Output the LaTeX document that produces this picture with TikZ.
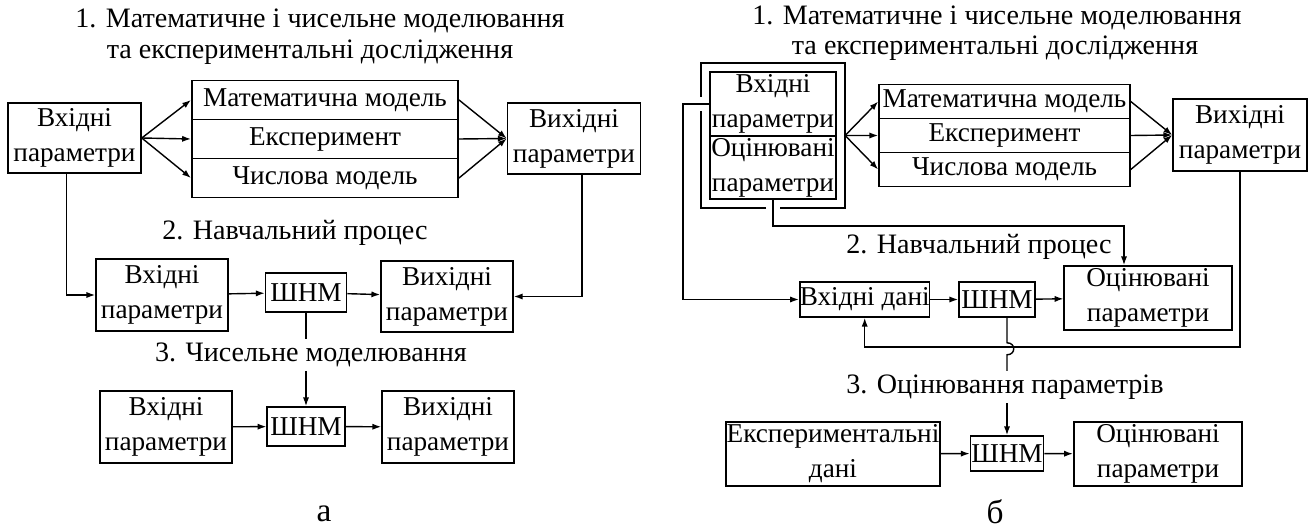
\documentclass[tikz,border=0pt]{standalone}
\usepackage{fontspec}
\setmainfont{Liberation Serif}
\usetikzlibrary{arrows.meta, positioning, calc, fit}

\begin{document}
\begin{tikzpicture}[
  x=0.02cm, y=-0.02cm,
  blk/.style={draw, line width=0.9pt, inner sep=0pt, align=center, font=\fontsize{15.5}{20}\selectfont},
  lbl/.style={inner sep=2pt, align=center, font=\fontsize{16}{20}\selectfont},
  arr/.style={line width=0.8pt, -{Latex[length=5pt, width=3.5pt]}},
  ln/.style={line width=0.8pt}
]
  \useasboundingbox (0,0) rectangle (1311,530);

  % (a)
  \node[lbl] (ta1) at (320,21) {1. Математичне і чисельне моделювання};
  \node[lbl] (ta2) at (310,52) {та експериментальні дослідження};
  \node[blk, minimum width=2.66cm, minimum height=1.4cm] (in1) at (74.5,138) {Вхідні\\параметри};
  \node[blk, minimum width=5.33cm, minimum height=0.78cm] (mm) at (325,100) {Математична модель};
  \node[blk, minimum width=5.33cm, minimum height=0.78cm] (ex) at (325,139) {Експеримент};
  \node[blk, minimum width=5.33cm, minimum height=0.78cm] (num) at (325,178) {Числова модель};
  \node[blk, minimum width=2.66cm, minimum height=1.42cm] (out1) at (574,138.5) {Вихідні\\параметри};
  \draw[arr] (in1.east) -- (mm.west);
  \draw[arr] (in1.east) -- (ex.west);
  \draw[arr] (in1.east) -- (num.west);
  \draw[arr] (mm.east) -- (out1.west);
  \draw[arr] (ex.east) -- (out1.west);
  \draw[arr] (num.east) -- (out1.west);

  \node[lbl] (ta3) at (295,233) {2. Навчальний процес};
  \node[blk, minimum width=2.64cm, minimum height=1.44cm] (in2) at (162,295) {Вхідні\\параметри};
  \node[blk, minimum width=1.62cm, minimum height=0.78cm] (shnm2) at (306,292.5) {ШНМ};
  \node[blk, minimum width=2.64cm, minimum height=1.42cm] (out2) at (447,296.5) {Вихідні\\параметри};
  \draw[arr] ([xshift=-0.16cm]in1.south) |- (in2.west);
  \draw[arr] ([xshift=0.16cm]out1.south) |- (out2.east);
  \draw[arr] (in2) -- (shnm2);
  \draw[arr] (shnm2) -- (out2);

  \node[lbl] (ta4) at (311,355) {3. Чисельне моделювання};
  \node[blk, minimum width=2.63cm, minimum height=1.44cm] (in3) at (166,427) {Вхідні\\параметри};
  \node[blk, minimum width=1.55cm, minimum height=0.78cm] (shnm3) at (306,426.5) {ШНМ};
  \node[blk, minimum width=2.64cm, minimum height=1.44cm] (out3) at (448,427) {Вихідні\\параметри};
  \draw[ln] (shnm2.south) -- (shnm2.south |- ta4.north);
  \draw[arr] (shnm3.north |- ta4.south) -- (shnm3.north);
  \draw[arr] (in3) -- (shnm3);
  \draw[arr] (shnm3) -- (out3);
  \node[lbl, font=\fontsize{19}{22}\selectfont] (capa) at (324,514) {а};

  % (б)
  \node[lbl] (tb1) at (997,18) {1. Математичне і чисельне моделювання};
  \node[lbl] (tb2) at (995,48) {та експериментальні дослідження};
  \node[blk, minimum width=2.52cm, minimum height=1.28cm] (vp) at (773,104) {Вхідні\\параметри};
  \node[blk, minimum width=2.52cm, minimum height=1.26cm] (op) at (773,167.5) {Оцінювані\\параметри};
  \node[fit=(vp)(op), inner sep=0.16cm] (frm) {};
  \draw[line width=0.9pt] ($(frm.west |- vp.west)+(0,-7)$) -- (frm.north west) -- (frm.north east)
    -- (frm.south east) -- ($(frm.south -| op.south)+(7,0)$);
  \draw[line width=0.9pt] ($(frm.south -| op.south)+(-7,0)$) -- (frm.south west) -- ($(frm.west |- vp.west)+(0,7)$);
  \node[blk, minimum width=5.02cm, minimum height=0.68cm] (mmb) at (1004.5,101.5) {Математична модель};
  \node[blk, minimum width=5.02cm, minimum height=0.68cm] (exb) at (1004.5,135.5) {Експеримент};
  \node[blk, minimum width=5.02cm, minimum height=0.68cm] (numb) at (1004.5,169.5) {Числова модель};
  \node[blk, minimum width=2.68cm, minimum height=1.44cm] (vout) at (1240,135) {Вихідні\\параметри};
  \draw[arr] (frm.east) -- (mmb.west);
  \draw[arr] (frm.east) -- (exb.west);
  \draw[arr] (frm.east) -- (numb.west);
  \draw[arr] (mmb.east) -- (vout.west);
  \draw[arr] (exb.east) -- (vout.west);
  \draw[arr] (numb.east) -- (vout.west);

  \node[lbl] (tb3) at (979,247) {2. Навчальний процес};
  \node[blk, minimum width=2.44cm, minimum height=0.7cm] (vin) at (864.7,299.5) {Вхідні дані};
  \node[blk, minimum width=1.52cm, minimum height=0.7cm] (shnm2b) at (997,299.5) {ШНМ};
  \node[blk, minimum width=3.35cm, minimum height=1.28cm] (est2) at (1148,298) {Оцінювані\\параметри};
  \coordinate (c1) at (1124,226);
  \coordinate (c2) at (683,0);
  \coordinate (c3) at (0,347);
  \draw[arr] (op.south) |- (c1) -- (c1 |- est2.north);
  \draw[arr] (vp.west) -- (vp.west -| c2) |- (vin.west);
  \draw[arr] (vout.south) -- (vout.south |- c3) -| (vin.south);
  \draw[arr] (vin) -- (shnm2b);
  \draw[arr] (shnm2b) -- (est2);

  \node[lbl] (tb4) at (1005,387) {3. Оцінювання параметрів};
  \node[blk, minimum width=4.27cm, minimum height=1.28cm] (exp) at (833,454) {Експериментальні\\дані};
  \node[blk, minimum width=1.46cm, minimum height=0.7cm] (shnm3b) at (1007,453.5) {ШНМ};
  \node[blk, minimum width=3.37cm, minimum height=1.28cm] (est3) at (1158,454) {Оцінювані\\параметри};
  \draw[ln] (shnm2b.south -| shnm3b.north) -- ++(0,25) .. controls +(9,0) and +(9,0) .. ++(0,12)
    -- (shnm3b.north |- tb4.north);
  \draw[arr] (shnm3b.north |- tb4.south) -- (shnm3b.north);
  \draw[arr] (exp) -- (shnm3b);
  \draw[arr] (shnm3b) -- (est3);
  \node[lbl, font=\fontsize{19}{22}\selectfont] (capb) at (995,512) {б};
\end{tikzpicture}
\end{document}
